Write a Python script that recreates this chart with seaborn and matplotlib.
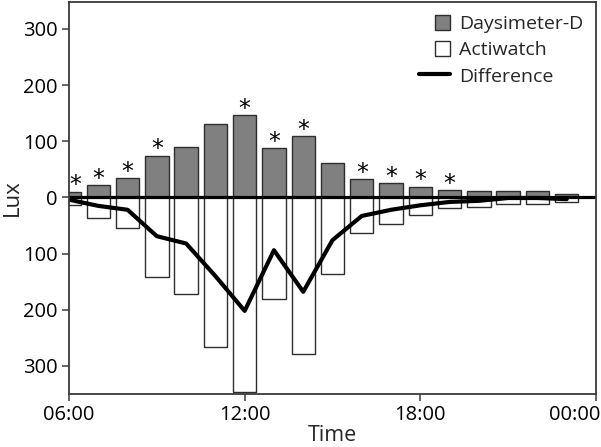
import matplotlib
matplotlib.use("Agg")
import matplotlib.pyplot as plt
import matplotlib.transforms as mtransforms
import seaborn as sns
import numpy as np
import pandas as pd
from matplotlib.patches import Patch, Rectangle
from matplotlib.lines import Line2D
from matplotlib.legend_handler import HandlerPatch

# ---- data ----
hours = [6, 7, 8, 9, 10, 11, 12, 13, 14, 15, 16, 17, 18, 19, 20, 21, 22, 23]
daysimeter = [10, 22, 34, 74, 90, 130, 146, 88, 109, 61, 32, 25, 19, 13, 11, 11, 11, 6]
actiwatch = [14, 37, 55, 141, 172, 267, 347, 180, 278, 137, 64, 47, 31, 18, 17, 12, 12, 8]
difference = [-4, -15, -22, -69, -82, -140, -202, -94, -168, -76, -33, -22, -14, -8, -6, -1, -1, -3]
significant = [1, 1, 1, 1, 0, 0, 1, 1, 1, 0, 1, 1, 1, 1, 0, 0, 0, 0]
xtick_pos = [6, 12, 18, 24]
xtick_labels = ["06:00", "12:00", "18:00", "00:00"]
ytick_pos = [-300, -200, -100, 0, 100, 200, 300]
ytick_labels = ["300", "200", "100", "0", "100", "200", "300"]

sns.set_theme(style="ticks")
plt.rcParams["font.family"] = ["Open Sans", "DejaVu Sans"]

spine_col = "#3a3a3a"
gray = "#808080"
edge = "#2e2e2e"
bar_w = 0.8
x_lo, x_hi = 6, 24

fig = plt.figure(figsize=(6.01, 4.47), dpi=100)
ax = fig.add_axes([69 / 601, 1 - 394 / 447, (596 - 69) / 601, (394 - 2) / 447])

df = pd.DataFrame({"hour": hours, "day": daysimeter,
                   "act": [-v for v in actiwatch], "diff": difference})

sns.barplot(data=df, x="hour", y="day", native_scale=True, width=bar_w,
            color=gray, saturation=1, edgecolor=edge, linewidth=1.0,
            errorbar=None, ax=ax, zorder=2)
sns.barplot(data=df, x="hour", y="act", native_scale=True, width=bar_w,
            color="white", saturation=1, edgecolor=edge, linewidth=1.0,
            errorbar=None, ax=ax, zorder=2)
ax.axhline(0, color="black", lw=2.3, zorder=3)
sns.lineplot(data=df, x="hour", y="diff", color="black", linewidth=3.0,
             ax=ax, zorder=4)

for h, v, s in zip(hours, daysimeter, significant):
    if s:
        # centre the star over the visible part of the bar
        left = max(h - bar_w / 2, x_lo)
        right = min(h + bar_w / 2, x_hi)
        ax.annotate("*", ((left + right) / 2, v), xytext=(0, -4),
                    textcoords="offset points", ha="center", va="bottom",
                    fontsize=17, color="black", family="DejaVu Sans")

ax.set_xlim(x_lo, x_hi)
ax.set_ylim(-350, 348)
ax.set_xticks(xtick_pos)
ax.set_xticklabels(xtick_labels)
ax.set_yticks(ytick_pos)
ax.set_yticklabels(ytick_labels)
ax.tick_params(axis="both", direction="out", length=5, width=1.1,
               color=spine_col, labelsize=14.5, labelcolor="black", pad=3)
for sp in ax.spines.values():
    sp.set_visible(True)
    sp.set_color(spine_col)
    sp.set_linewidth(1.3)
    sp.set_zorder(6)

# last tick label sits flush with the right edge, as in the reference
last = ax.get_xticklabels()[-1]
last.set_horizontalalignment("right")
last.set_transform(last.get_transform() +
                   mtransforms.ScaledTranslation(4 / 100, 0, fig.dpi_scale_trans))

ax.set_xlabel("Time", fontsize=15.5, labelpad=0)
ax.set_ylabel("Lux", fontsize=16, labelpad=0)


class SquareHandler(HandlerPatch):
    def create_artists(self, legend, orig_handle, xdescent, ydescent,
                       width, height, fontsize, trans):
        s = height
        p = Rectangle((-xdescent + width - s, -ydescent), s, s,
                      facecolor=orig_handle.get_facecolor(),
                      edgecolor=orig_handle.get_edgecolor(),
                      linewidth=1.0, transform=trans)
        return [p]


handles = [Patch(facecolor=gray, edgecolor=edge),
           Patch(facecolor="white", edgecolor=edge),
           Line2D([0], [0], color="black", lw=3.0)]
labels = ["Daysimeter-D", "Actiwatch", "Difference"]
ax.legend(handles, labels, loc="upper right", frameon=False, fontsize=14,
          handlelength=1.6, handleheight=0.8, handletextpad=0.45,
          labelspacing=0.42, borderaxespad=0.25,
          handler_map={Patch: SquareHandler()})

fig.savefig("out.png", dpi=100)
